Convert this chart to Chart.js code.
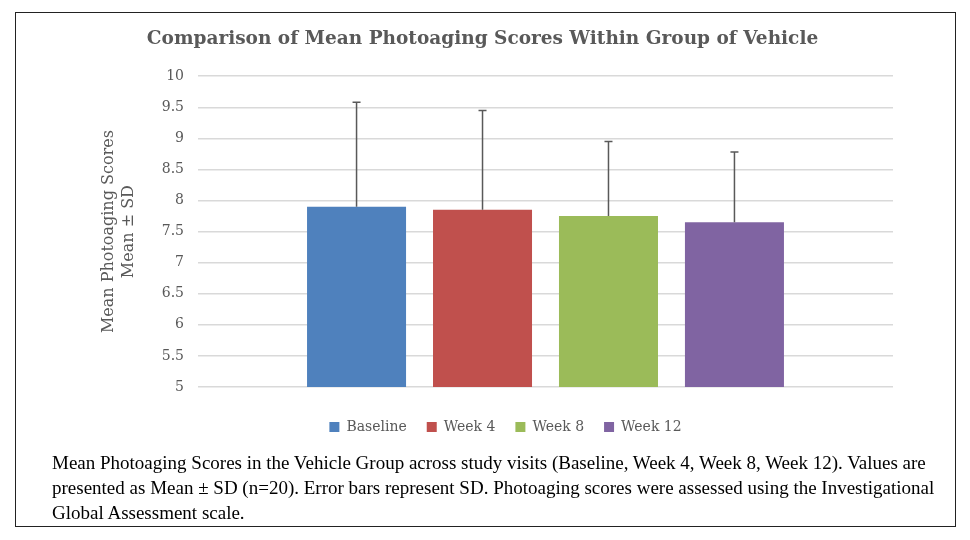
<!DOCTYPE html>
<html>
<head>
<meta charset="utf-8">
<script src="https://cdn.jsdelivr.net/npm/chart.js@4.4.1/dist/chart.umd.min.js"></script>
<style>
body { margin: 0; background: #fff; width: 970px; height: 540px; position: relative; overflow: hidden; }
#frame { position: absolute; left: 15px; top: 12px; width: 939px; height: 513px; border: 1.5px solid #222; pointer-events: none; }
#chart { position: absolute; left: 0; top: 0; }
#caption { position: absolute; left: 52px; top: 450px; font-family: "Liberation Serif", "Times New Roman", serif; font-size: 19px; line-height: 25px; color: #000; white-space: nowrap; }
</style>
</head>
<body>
<canvas id="chart" width="970" height="444"></canvas>
<div id="frame"></div>
<div id="caption">Mean Photoaging Scores in the Vehicle Group across study visits (Baseline, Week 4, Week 8, Week 12). Values are<br>presented as Mean ± SD (n=20). Error bars represent SD. Photoaging scores were assessed using the Investigational<br>Global Assessment scale.</div>
<script>
// values
const visits = ['Baseline', 'Week 4', 'Week 8', 'Week 12'];
const means = [7.9, 7.85, 7.75, 7.65];
const sds = [1.68, 1.6, 1.2, 1.13];
const colors = ['#4f81bd', '#c0504d', '#9bbb59', '#8064a2'];

const serif = "'DejaVu Serif', Cambria, serif";
const grey = '#595959';

// only the plus side of the SD, like the original
const errorBars = {
    id: 'errorBars',
    afterDatasetsDraw(chart) {
        const ctx = chart.ctx;
        const y = chart.scales.y;
        ctx.save();
        ctx.strokeStyle = grey;
        ctx.lineWidth = 1.5;
        chart.data.datasets.forEach((ds, i) => {
            chart.getDatasetMeta(i).data.forEach((bar, j) => {
                const top = y.getPixelForValue(ds.data[j] + sds[i]);
                ctx.beginPath();
                ctx.moveTo(bar.x, bar.y);
                ctx.lineTo(bar.x, top);
                ctx.moveTo(bar.x - 4, top);
                ctx.lineTo(bar.x + 4, top);
                ctx.stroke();
            });
        });
        ctx.restore();
    }
};

// title and legend are not centred on the same spot in the original
const shiftBox = (box, dx) => { if (box) { box.left += dx; box.right += dx; } };
const boxShift = {
    id: 'boxShift',
    afterLayout(chart) {
        shiftBox(chart.titleBlock, -9);
        shiftBox(chart.legend, 14);
    }
};

new Chart(document.getElementById('chart'), {
    type: 'bar',
    data: {
        labels: [''],
        datasets: visits.map((name, i) => ({
            label: name,
            data: [means[i]],
            backgroundColor: colors[i],
            categoryPercentage: 0.725,
            barPercentage: 0.786
        }))
    },
    options: {
        responsive: false,
        animation: false,
        events: [],
        layout: { padding: { left: 90, right: 77, top: 0, bottom: 0 } },
        scales: {
            x: {
                grid: { display: false },
                border: { display: false },
                ticks: { display: false },
                afterFit: (s) => { s.height = 13; }
            },
            y: {
                min: 5,
                max: 10,
                ticks: {
                    stepSize: 0.5,
                    color: grey,
                    padding: 14,
                    font: { family: serif, size: 14 },
                    callback: (v) => String(+v.toFixed(1))
                },
                grid: { color: '#d9d9d9', lineWidth: 1.5, drawTicks: false },
                border: { display: false },
                title: {
                    display: true,
                    text: ['Mean Photoaging Scores', 'Mean ± SD'],
                    color: grey,
                    padding: { top: 9, bottom: 0 },
                    font: { family: serif, size: 16, lineHeight: 1.25 }
                },
                afterFit: (s) => { s.width = 108; }
            }
        },
        plugins: {
            title: {
                display: true,
                text: 'Comparison of Mean Photoaging Scores Within Group of Vehicle',
                color: grey,
                padding: { top: 28, bottom: 26 },
                font: { family: serif, size: 18.5, weight: 'bold', lineHeight: 1.2 }
            },
            legend: {
                position: 'bottom',
                labels: {
                    boxWidth: 10,
                    boxHeight: 10,
                    padding: 20,
                    color: grey,
                    font: { family: serif, size: 14 }
                }
            },
            tooltip: { enabled: false }
        }
    },
    plugins: [errorBars, boxShift]
});
</script>
</body>
</html>
